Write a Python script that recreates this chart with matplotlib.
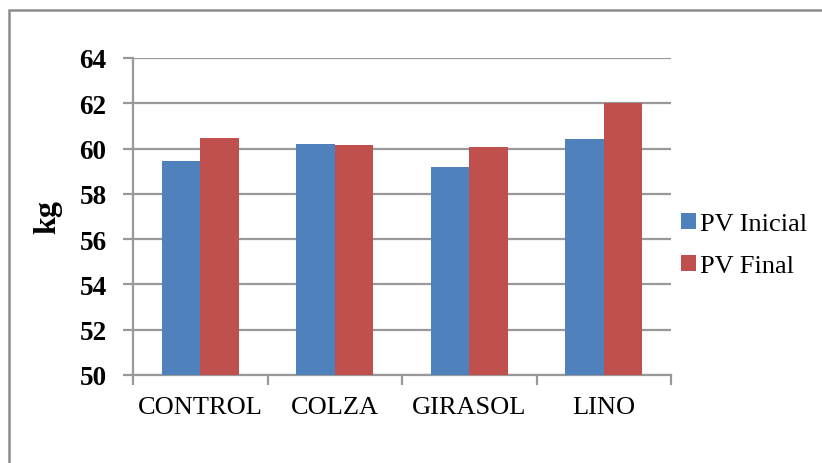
import matplotlib
matplotlib.use("Agg")
import matplotlib.pyplot as plt
from matplotlib.patches import Rectangle
import numpy as np

categories = ["CONTROL", "COLZA", "GIRASOL", "LINO"]
pv_inicial = [59.44, 60.22, 59.17, 60.44]
pv_final = [60.46, 60.15, 60.09, 62.02]
series_names = ["PV Inicial", "PV Final"]
y_ticks = [50, 52, 54, 56, 58, 60, 62, 64]

blue = "#4F81BD"
red = "#C0504D"
grid_gray = "#999999"

plt.rcParams["font.family"] = ["Liberation Serif", "DejaVu Serif"]

fig = plt.figure(figsize=(8.22, 4.64), dpi=100)
ax = fig.add_axes([133 / 822, 1 - 376 / 464, (671 - 133) / 822, (376 - 59) / 464])

x = np.arange(len(categories))
w = 0.2857
ax.bar(x - w / 2, np.array(pv_inicial) - 50, width=w, bottom=50, color=blue,
       label=series_names[0], zorder=3)
ax.bar(x + w / 2, np.array(pv_final) - 50, width=w, bottom=50, color=red,
       label=series_names[1], zorder=3)

ax.set_xlim(-0.5, len(categories) - 0.5)
ax.set_ylim(50, 64)
ax.set_yticks(y_ticks)
ax.set_yticklabels([str(t) for t in y_ticks], fontsize=19.5, fontweight="bold")
ax.yaxis.grid(True, color=grid_gray, linewidth=1.6, zorder=0)
ax.set_axisbelow(True)

ax.set_xticks(x)
ax.set_xticklabels(categories, fontsize=19)
ax.set_xticks(np.arange(-0.5, len(categories)), minor=True)
ax.tick_params(axis="x", which="major", length=0, pad=15)
ax.tick_params(axis="x", which="minor", length=7, width=1.6, color=grid_gray)
ax.tick_params(axis="y", length=7, width=1.6, color=grid_gray, pad=12)

for side in ("top", "right"):
    ax.spines[side].set_visible(False)
for side in ("left", "bottom"):
    ax.spines[side].set_color(grid_gray)
    ax.spines[side].set_linewidth(1.6)

ax.set_ylabel("kg", fontsize=23, fontweight="bold", labelpad=12)

leg = ax.legend(loc="center left", bbox_to_anchor=(0.9986, 0.41), frameon=False,
                fontsize=19, handlelength=0.58, handleheight=0.58,
                handletextpad=0.15, labelspacing=0.75, borderaxespad=0.0)

# outer chart frame
fig.add_artist(Rectangle((9 / 822, -0.1), 1.2, 1 - 10.5 / 464 + 0.1,
                         transform=fig.transFigure, fill=False,
                         edgecolor="#8C8C8C", linewidth=1.8))

fig.savefig("out.png", dpi=100)
